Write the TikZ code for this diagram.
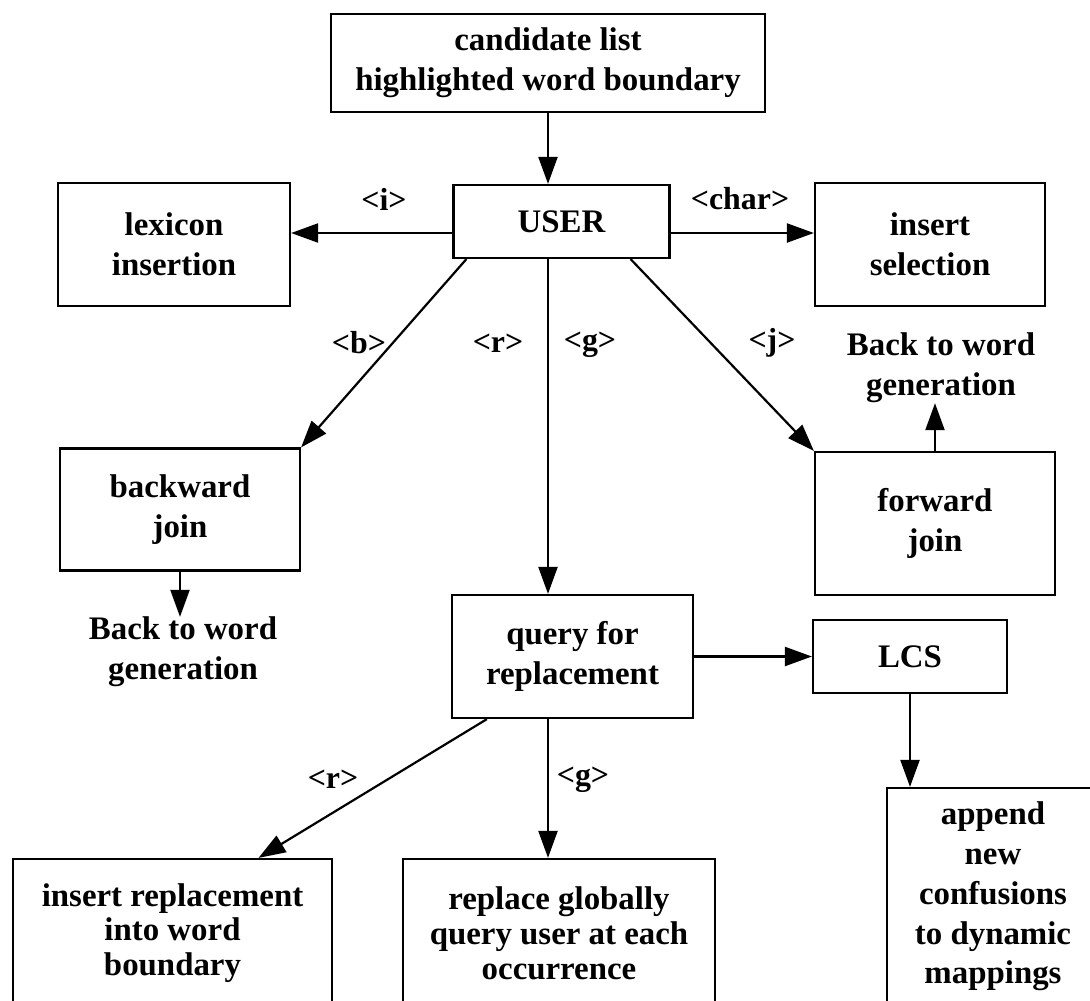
\documentclass[tikz,border=0pt]{standalone}
\usepackage{fontspec}
\setmainfont{Liberation Serif}
\usetikzlibrary{arrows.meta,calc}
\begin{document}
\begin{tikzpicture}[x=1bp,y=-1bp,
  box/.style={draw, line width=2.2bp, align=center, inner sep=0pt, font=\fontsize{33}{40}\selectfont\bfseries},
  txt/.style={align=center, inner sep=0pt, font=\fontsize{33}{40}\selectfont\bfseries},
  lbl/.style={inner sep=0pt, font=\fontsize{32}{36}\selectfont\bfseries},
  arr/.style={line width=2.2bp, -{Triangle[length=27bp,width=19bp]}}]
\useasboundingbox (0,0) rectangle (1090,1001);
% boxes
\node[box, minimum width=434bp, minimum height=98bp] (top) at (548,63) {candidate list\\highlighted word boundary};
\node[box, minimum width=216bp, minimum height=73bp] (user) at (561.5,221.5) {USER};
\node[box, minimum width=232bp, minimum height=123bp] (lex) at (174,244.5) {lexicon\\insertion};
\node[box, minimum width=230bp, minimum height=123bp] (ins) at (930,244.5) {insert\\selection};
\node[box, minimum width=240bp, minimum height=122bp] (bj) at (180,509.5) {backward\\join};
\node[box, minimum width=240bp, minimum height=143bp] (fj) at (935,523.5) {forward\\join};
\node[box, minimum width=241bp, minimum height=123bp] (q) at (572.5,656.5) {query for\\replacement};
\node[box, minimum width=194bp, minimum height=73bp] (lcs) at (910,656.5) {LCS};
\node[box, minimum width=319bp, minimum height=148bp, font=\fontsize{33}{35}\selectfont\bfseries] (bl) at (172.5,933) {insert replacement\\into word\\boundary};
\node[box, minimum width=312bp, minimum height=148bp, font=\fontsize{33}{35}\selectfont\bfseries] (bm) at (559,933) {replace globally\\query user at each\\occurrence};
\node[box, minimum width=212bp, minimum height=217bp] (app) at (993,896.5) {append\\new\\confusions\\to dynamic\\mappings};
% free texts
\node[txt] (bt1) at (183,652) {Back to word\\generation};
\node[txt] (bt2) at (941,368) {Back to word\\generation};
% connectors
\draw[arr] (top.south) -- (top.south |- user.north);
\draw[arr] ([yshift=-11.5bp]user.west) coordinate (uw) -- (uw -| lex.east);
\draw[arr] ([yshift=-11.5bp]user.east) coordinate (ue) -- (ue -| ins.west);
\draw[arr] ([xshift=14bp]user.south west) -- (bj.north east);
\draw[arr] (user.south -| top.south) -- (q.north -| top.south);
\draw[arr] ([xshift=-40bp]user.south east) -- (fj.north west);
\draw[arr] (fj.north) -- (fj.north |- bt2.south);
\draw[arr] (bj.south) -- (bj.south |- bt1.north);
\draw[arr] (q.east) -- (lcs.west);
\draw[arr] (lcs.south) -- (lcs.south |- app.north);
\draw[arr] ([xshift=36bp]q.south west) -- ([xshift=86bp]bl.north);
\draw[arr] (q.south -| top.south) -- (bm.north -| top.south);
% labels
\node[lbl] (li) at (384,199) {<i>};
\node[lbl] (lc) at (740,199) {<char>};
\node[lbl] (lb) at (359,343) {<b>};
\node[lbl] (lr) at (498,343) {<r>};
\node[lbl] (lg) at (590,345) {<g>};
\node[lbl] (lj) at (772,343) {<j>};
\node[lbl] (lr2) at (333,779) {<r>};
\node[lbl] (lg2) at (583,780) {<g>};
\end{tikzpicture}
\end{document}
